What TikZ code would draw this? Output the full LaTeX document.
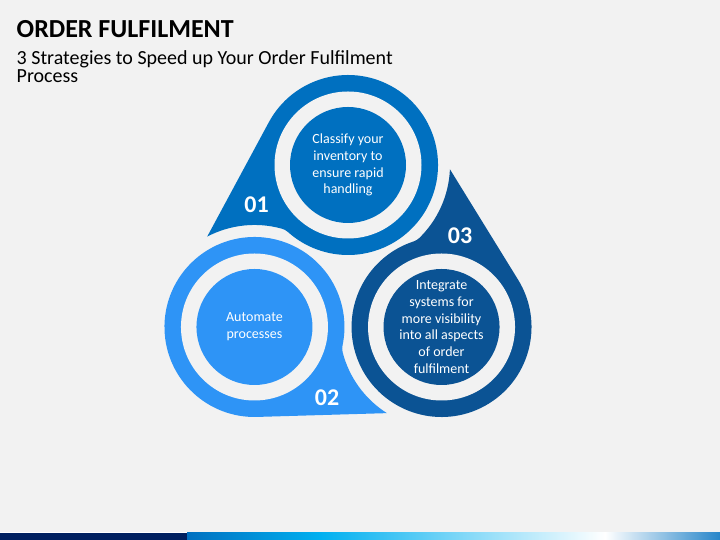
\documentclass[tikz,border=0pt]{standalone}
\usepackage{fontspec}
\setmainfont{Carlito}
\definecolor{bggray}{HTML}{F2F2F2}
\definecolor{dropone}{HTML}{0070C0}
\definecolor{droptwo}{HTML}{2E94F6}
\definecolor{dropthree}{HTML}{0B5394}
\definecolor{barnavy}{HTML}{002060}
\definecolor{barcyan}{HTML}{00B0F0}
\tikzset{
	steptext/.style={text=white,align=center,inner sep=0pt,font=\fontsize{14}{16.8}\selectfont},
	stepnum/.style={text=white,inner sep=0pt,font=\fontsize{24}{28.8}\selectfont\bfseries},
}
\begin{document}
\begin{tikzpicture}[x=1pt,y=1pt]
			\useasboundingbox (0,0) rectangle (720,540);
			\fill[bggray] (0,0) rectangle (720,540);
			\coordinate (O) at (348,267);
			\begin{scope}[shift={(O)}]
				\coordinate (C1) at (90:108);
				\coordinate (C2) at (210:108);
				\coordinate (C3) at (330:108);
				\fill[dropone] (-140.8,36.4) -- (-79.2,150.7) arc[start angle=151.67,end angle=-131.9,radius=90] arc[start angle=48.1,end angle=74.42,radius=15] arc[start angle=74.42,end angle=117.6,radius=102] -- cycle;
				\fill[droptwo,rotate=120] (-140.8,36.4) -- (-79.2,150.7) arc[start angle=151.67,end angle=-131.9,radius=90] arc[start angle=48.1,end angle=74.42,radius=15] arc[start angle=74.42,end angle=117.6,radius=102] -- cycle;
				\fill[dropthree,rotate=240] (-140.8,36.4) -- (-79.2,150.7) arc[start angle=151.67,end angle=-131.9,radius=90] arc[start angle=48.1,end angle=74.42,radius=15] arc[start angle=74.42,end angle=117.6,radius=102] -- cycle;
				\fill[bggray] (C1) circle (73.5);
				\fill[bggray] (C2) circle (73.5);
				\fill[bggray] (C3) circle (73.5);
				\fill[dropone] (C1) circle (58);
				\fill[droptwo] (C2) circle (58);
				\fill[dropthree] (C3) circle (58);
				\node[steptext] (txt1) at (C1) {Classify your\\inventory to\\ensure rapid\\handling};
				\node[steptext] (txt2) at (C2) {Automate\\processes};
				\node[steptext] (txt3) at (C3) {Integrate\\systems for\\more visibility\\into all aspects\\of order\\fulfilment};
			\end{scope}
			\node[stepnum] (num1) at (256.5,335.5) {01};
			\node[stepnum] (num2) at (327,142.5) {02};
			\node[stepnum] (num3) at (460,304.5) {03};
			\node[anchor=base west,inner sep=0pt,font=\fontsize{26}{31.2}\selectfont\bfseries] (title) at (16.5,502.7) {ORDER FULFILMENT};
			\node[anchor=base west,inner sep=0pt,align=left,font=\fontsize{20}{18.5}\selectfont] (sub) at (16.5,457) {3 Strategies to Speed up Your Order Fulfilment\\Process};
			\fill[white] (0,7) rectangle (720,8);
			\fill[barnavy] (0,0) rectangle (187,7);
			\shade[left color=dropone,right color=barcyan] (187,0) rectangle (320,7);
			\shade[left color=barcyan,right color=white] (320,0) rectangle (605,7);
			\shade[left color=white,right color=dropone!85!white] (605,0) rectangle (720,7);
		\end{tikzpicture}
\end{document}
